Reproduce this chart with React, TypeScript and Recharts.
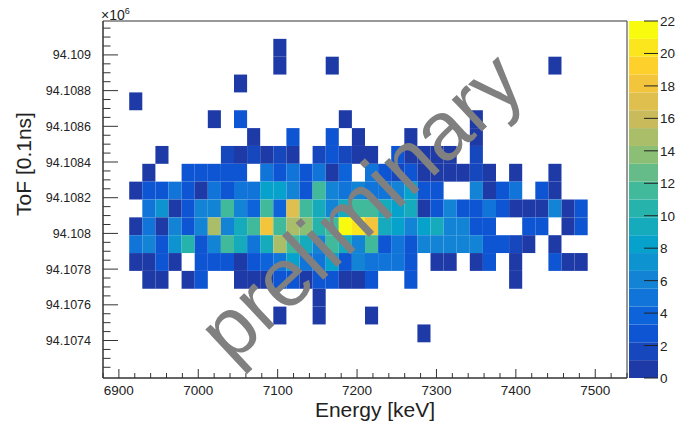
import React from "react";
import { ScatterChart, Scatter, XAxis, YAxis, ReferenceArea, BarChart, Bar } from "recharts";

// binning: energy in keV, ToF in 0.1ns (x 1e6)
const energyStart = 6880;
const energyBin = 16.5;
const energyEnd = 7540;
const tofStart = 94.10719;
const tofBin = 0.0001;
const tofEnd = 94.10919;

// counts per bin, first row = top ToF bin, 40 energy bins per row
const counts: number[][] = [
  [0,0,0,0,0,0,0,0,0,0, 0,0,0,0,0,0,0,0,0,0, 0,0,0,0,0,0,0,0,0,0, 0,0,0,0,0,0,0,0,0,0],
  [0,0,0,0,0,0,0,0,0,0, 0,0,0,1,0,0,0,0,0,0, 0,0,0,0,0,0,0,0,0,0, 0,0,0,0,0,0,0,0,0,0],
  [0,0,0,0,0,0,0,0,0,0, 0,0,0,1,0,0,0,1,0,0, 0,0,0,0,0,0,0,0,0,0, 0,0,0,0,1,0,0,0,0,0],
  [0,0,0,0,0,0,0,0,0,0, 1,0,0,0,0,0,0,0,0,0, 0,0,0,0,0,0,0,0,0,0, 0,0,0,0,0,0,0,0,0,0],
  [0,0,1,0,0,0,0,0,0,0, 0,0,0,0,0,0,0,0,0,0, 0,0,0,0,0,0,0,0,0,0, 0,0,0,0,0,0,0,0,0,0],
  [0,0,0,0,0,0,0,0,1,0, 3,0,0,0,0,0,0,0,1,0, 0,0,0,0,0,0,0,0,1,0, 0,0,0,0,0,0,0,0,0,0],
  [0,0,0,0,0,0,0,0,0,0, 0,1,0,0,3,0,0,3,0,1, 0,0,0,1,0,0,0,0,1,0, 0,0,0,0,0,0,0,0,0,0],
  [0,0,0,0,1,0,0,0,0,2, 1,2,1,2,1,0,2,3,2,1, 1,0,3,1,1,1,1,0,2,0, 0,0,0,0,0,0,0,0,0,0],
  [0,0,0,1,0,0,3,3,3,3, 3,0,5,3,5,3,5,1,4,0, 5,3,2,3,1,1,1,1,2,1, 0,1,0,0,1,0,0,0,0,0],
  [0,0,1,3,3,5,3,1,5,3, 5,5,8,8,6,3,11,6,5,6, 5,5,6,8,3,3,0,0,6,1, 3,5,0,3,1,0,0,0,0,0],
  [0,0,0,5,7,1,3,6,6,12, 6,4,11,4,17,12,9,6,9,11, 11,9,8,9,1,3,6,3,3,5, 3,1,1,1,6,1,3,0,0,0],
  [0,0,1,5,1,6,3,6,15,6, 9,12,18,12,15,14,10,12,22,20, 18,9,8,6,8,9,6,6,3,3, 0,0,3,3,0,1,3,0,0,0],
  [0,0,5,6,3,7,10,3,6,12, 9,5,9,15,12,9,6,12,9,6, 12,3,5,3,6,6,6,6,6,3, 3,2,1,0,1,0,0,0,0,0],
  [0,0,1,1,3,1,0,3,3,3, 1,3,4,5,8,5,5,8,3,6, 5,5,5,3,0,1,1,0,1,3, 0,1,0,0,3,1,1,0,0,0],
  [0,0,0,1,1,0,1,3,0,0, 1,1,1,3,3,1,3,3,1,1, 3,0,0,3,0,0,0,0,0,0, 0,1,0,0,0,0,0,0,0,0],
  [0,0,0,0,0,0,0,0,0,0, 0,0,0,0,0,0,1,0,0,0, 0,0,0,0,0,0,0,0,0,0, 0,0,0,0,0,0,0,0,0,0],
  [0,0,0,0,0,0,0,0,0,0, 0,0,0,1,0,0,1,0,0,0, 1,0,0,0,0,0,0,0,0,0, 0,0,0,0,0,0,0,0,0,0],
  [0,0,0,0,0,0,0,0,0,0, 0,0,0,0,0,0,0,0,0,0, 0,0,0,0,1,0,0,0,0,0, 0,0,0,0,0,0,0,0,0,0],
  [0,0,0,0,0,0,0,0,0,0, 0,0,0,0,0,0,0,0,0,0, 0,0,0,0,0,0,0,0,0,0, 0,0,0,0,0,0,0,0,0,0],
  [0,0,0,0,0,0,0,0,0,0, 0,0,0,0,0,0,0,0,0,0, 0,0,0,0,0,0,0,0,0,0, 0,0,0,0,0,0,0,0,0,0],
];

const energyLabels = [6900, 7000, 7100, 7200, 7300, 7400, 7500];
const tofLabels = ["94.1074", "94.1076", "94.1078", "94.108", "94.1082", "94.1084", "94.1086", "94.1088", "94.109"];
const zLabels = [0, 2, 4, 6, 8, 10, 12, 14, 16, 18, 20, 22];
const zMax = 22;
const zLevels = 20;

// palette (bird-like)
const palStops = [0, 0.125, 0.25, 0.375, 0.5, 0.625, 0.75, 0.875, 1];
const palRGB = [
  [30, 58, 166], [10, 90, 220], [20, 128, 214], [6, 164, 202], [46, 183, 164],
  [135, 191, 119], [209, 187, 89], [254, 200, 50], [249, 251, 14],
];

function palette(t: number) {
  let k = 0;
  while (k < palStops.length - 2 && t > palStops[k + 1]) k++;
  const f = (t - palStops[k]) / (palStops[k + 1] - palStops[k]);
  const c = palRGB[k].map((v, i) => Math.round(v + (palRGB[k + 1][i] - v) * f));
  return `rgb(${c[0]},${c[1]},${c[2]})`;
}
const levelColor = (lvl: number) => palette(lvl / (zLevels - 1));
const countColor = (c: number) => levelColor(Math.min(zLevels - 1, Math.floor((c / zMax) * zLevels + 1e-9)));

const nRows = counts.length;
const cells: { x1: number; x2: number; y1: number; y2: number; x: number; y: number; c: number }[] = [];
counts.forEach((row, r) => {
  const j = nRows - 1 - r;
  row.forEach((c, i) => {
    if (c <= 0) return;
    const x1 = energyStart + i * energyBin;
    const y1 = tofStart + j * tofBin;
    cells.push({ x1, x2: x1 + energyBin, y1, y2: y1 + tofBin, x: x1 + energyBin / 2, y: y1 + tofBin / 2, c });
  });
});

const xTicks: number[] = [];
for (let e = energyStart; e <= energyEnd; e += 20) xTicks.push(e);
const yTicks: number[] = [];
for (let u = 9410725; u <= 9410915; u += 5) yTicks.push(u / 1e5);

const bandRow: Record<string, number | string> = { name: "z" };
for (let k = 0; k < zLevels; k++) bandRow["b" + k] = zMax / zLevels;
const bandData = [bandRow];

const F = "'Liberation Sans', Arial, Helvetica, sans-serif";
const AX = "#333";

const XTick = (props: any) => {
  const { x, y, payload } = props;
  const major = energyLabels.includes(payload.value);
  return (
    <g>
      <line x1={x} x2={x} y1={y} y2={y - (major ? 9 : 5)} stroke={AX} />
      {major && (
        <text x={x} y={y + 17} textAnchor="middle" fontSize={13.5} fontFamily={F} fill="#222">
          {payload.value}
        </text>
      )}
    </g>
  );
};

const YTick = (props: any) => {
  const { x, y, payload } = props;
  const label = tofLabels.find((l) => Math.abs(Number(l) - payload.value) < 1e-7);
  return (
    <g>
      <line x1={x} x2={x + (label ? 15 : 7.5)} y1={y} y2={y} stroke={AX} />
      {label && (
        <text x={x - 12} y={y + 4.5} textAnchor="end" fontSize={12.5} fontFamily={F} fill="#222">
          {label}
        </text>
      )}
    </g>
  );
};

const ZTick = (props: any) => {
  const { x, y, payload } = props;
  return (
    <g>
      <line x1={x - 14} x2={x} y1={y} y2={y} stroke="#222" />
      <text x={x + 2} y={y + 5} textAnchor="start" fontSize={13.5} fontFamily={F} fill="#222">
        {payload.value}
      </text>
    </g>
  );
};

export default function App() {
  return (
    <div style={{ position: "absolute", left: 0, top: 0, width: 690, height: 426, background: "#fff" }}>
      <div style={{ position: "absolute", left: 0, top: 0 }}>
        <ScatterChart width={690} height={426} margin={{ top: 21, right: 63, bottom: 0, left: 0 }}>
          <XAxis
            dataKey="x"
            type="number"
            domain={[energyStart, energyEnd]}
            allowDataOverflow
            ticks={xTicks}
            interval={0}
            tick={<XTick />}
            tickLine={false}
            tickSize={0}
            tickMargin={0}
            axisLine={{ stroke: AX }}
            height={48}
          />
          <YAxis
            dataKey="y"
            type="number"
            domain={[tofStart, tofEnd]}
            allowDataOverflow
            ticks={yTicks}
            interval={0}
            tick={<YTick />}
            tickLine={false}
            tickSize={0}
            tickMargin={0}
            axisLine={{ stroke: AX }}
            width={103}
          />
          {cells.map((d, i) => (
            <ReferenceArea
              key={i}
              x1={d.x1}
              x2={d.x2}
              y1={d.y1}
              y2={d.y2}
              fill={countColor(d.c)}
              fillOpacity={1}
              stroke="none"
            />
          ))}
          <ReferenceArea
            x1={energyStart}
            x2={energyEnd}
            y1={tofStart}
            y2={tofEnd}
            fill="none"
            stroke={AX}
            strokeOpacity={1}
          />
          <Scatter data={cells} shape={() => <g />} isAnimationActive={false} />
        </ScatterChart>
      </div>
      <div style={{ position: "absolute", left: 629, top: 0 }}>
        <BarChart
          width={61}
          height={426}
          data={bandData}
          margin={{ top: 21, right: 0, bottom: 48, left: 0 }}
          barCategoryGap={0}
          barGap={0}
        >
          <XAxis dataKey="name" hide />
          <YAxis
            orientation="right"
            type="number"
            domain={[0, zMax]}
            ticks={zLabels}
            interval={0}
            tick={<ZTick />}
            tickLine={false}
            tickSize={0}
            tickMargin={0}
            axisLine={false}
            width={32}
          />
          {Array.from({ length: zLevels }, (_, k) => (
            <Bar key={k} dataKey={"b" + k} stackId="z" fill={levelColor(k)} isAnimationActive={false} />
          ))}
        </BarChart>
      </div>
      <svg width={690} height={426} style={{ position: "absolute", left: 0, top: 0, pointerEvents: "none" }}>
        <text x={101} y={20} fontSize={14} fontFamily={F} fill="#222">
          ×10<tspan dy={-6} fontSize={9}>6</tspan>
        </text>
        <text x={375} y={417} textAnchor="middle" fontSize={21} fontFamily={F} fill="#222">
          Energy [keV]
        </text>
        <text
          transform="translate(31,164) rotate(-90)"
          textAnchor="middle"
          fontSize={21}
          fontFamily={F}
          fill="#222"
        >
          ToF [0.1ns]
        </text>
        <text
          transform="translate(364,210) rotate(-43)"
          y={23}
          textAnchor="middle"
          fontSize={83}
          fontFamily={F}
          fill="#808080"
        >
          preliminary
        </text>
      </svg>
    </div>
  );
}
